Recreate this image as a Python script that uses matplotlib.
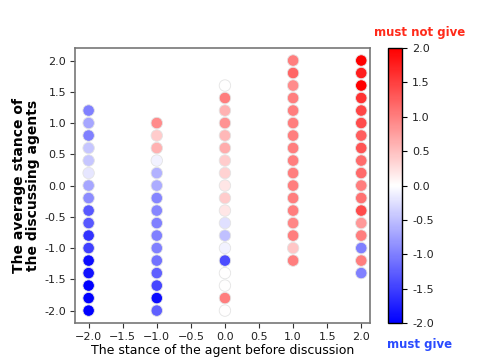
import matplotlib

matplotlib.use("Agg")
import matplotlib.pyplot as plt  # noqa: E402
from matplotlib.ticker import FuncFormatter  # noqa: E402

# stance of the agent before discussion (x) -> column of points
x_before = [-2.0, -1.0, 0.0, 1.0, 2.0]

# average stance of discussing agents (y) per column, top to bottom
y_m2 = [1.2, 1.0, 0.8, 0.6, 0.4, 0.2, 0.0, -0.2, -0.4, -0.6, -0.8, -1.0, -1.2, -1.4, -1.6, -1.8, -2.0]
y_m1 = [1.0, 0.8, 0.6, 0.4, 0.2, 0.0, -0.2, -0.4, -0.6, -0.8, -1.0, -1.2, -1.4, -1.6, -1.8, -2.0]
y_0 = [1.6, 1.4, 1.2, 1.0, 0.8, 0.6, 0.4, 0.2, 0.0, -0.2, -0.4, -0.6, -0.8, -1.0, -1.2, -1.4, -1.6, -1.8, -2.0]
y_p1 = [2.0, 1.8, 1.6, 1.4, 1.2, 1.0, 0.8, 0.6, 0.4, 0.2, 0.0, -0.2, -0.4, -0.6, -0.8, -1.0, -1.2]
y_p2 = [2.0, 1.8, 1.6, 1.4, 1.2, 1.0, 0.8, 0.6, 0.4, 0.2, 0.0, -0.2, -0.4, -0.6, -0.8, -1.0, -1.2, -1.4]

# stance after discussion (colour), same order as y
c_m2 = [-1.0, -0.7, -1.0, -0.45, -0.45, -0.2, -0.7, -0.9, -1.3, -1.3, -1.6, -1.5, -1.9, -1.85, -2.0, -2.0, -2.0]
c_m1 = [0.9, 0.4, 0.6, -0.1, -0.6, -0.65, -0.95, -0.95, -1.0, -1.0, -1.0, -1.1, -1.25, -1.45, -1.9, -1.25]
c_0 = [0.0, 1.0, 0.6, 0.85, 0.55, 0.65, 0.4, 0.35, 0.2, 0.4, 0.2, -0.25, -0.5, -0.1, -1.4, 0.0, 0.0, 1.0, 0.0]
c_p1 = [1.0, 1.2, 0.9, 1.0, 1.0, 1.0, 1.0, 1.0, 1.0, 1.0, 1.0, 1.0, 1.0, 0.95, 1.0, 0.45, 1.0]
c_p2 = [2.0, 1.75, 2.0, 1.6, 1.45, 1.4, 1.25, 1.33, 1.15, 1.17, 1.0, 1.1, 1.4, 0.8, 1.0, -1.0, 1.0, -1.0]

ys = [y_m2, y_m1, y_0, y_p1, y_p2]
cs = [c_m2, c_m1, c_0, c_p1, c_p2]

xs, yy, cc = [], [], []
for xv, ycol, ccol in zip(x_before, ys, cs):
    xs += [xv] * len(ycol)
    yy += ycol
    cc += ccol

fig = plt.figure(figsize=(4.87, 3.61), dpi=100)
ax = fig.add_axes([0.154, 0.105, 0.606, 0.762])
sc = ax.scatter(xs, yy, c=cc, cmap="bwr", vmin=-2, vmax=2, s=68,
                edgecolors="#e4e4e4", linewidths=0.6)
ax.set_xlim(-2.2, 2.13)
ax.set_ylim(-2.2, 2.2)
ax.set_xticks([-2.0, -1.5, -1.0, -0.5, 0.0, 0.5, 1.0, 1.5, 2.0])
ax.set_yticks([-2.0, -1.5, -1.0, -0.5, 0.0, 0.5, 1.0, 1.5, 2.0])
hyph = FuncFormatter(lambda v, p: f"{v:.1f}")
ax.yaxis.set_major_formatter(hyph)
ax.xaxis.set_major_formatter(FuncFormatter(lambda v, p: f"{v:.1f}".replace("-", "\u2212")))
ax.tick_params(labelsize=8, colors="#333333", labelcolor="#222222", pad=3)
for sp in ax.spines.values():
    sp.set_color("#777777")
    sp.set_linewidth(1.2)
ax.set_xlabel("The stance of the agent before discussion", fontsize=9, labelpad=1)
ax.set_ylabel("The average stance of\nthe discussing agents", fontsize=10,
              fontweight="bold", labelpad=3, linespacing=1.0)

cax = fig.add_axes([0.797, 0.105, 0.029, 0.762])
cb = fig.colorbar(sc, cax=cax)
cb.set_ticks([-2.0, -1.5, -1.0, -0.5, 0.0, 0.5, 1.0, 1.5, 2.0])
cb.ax.yaxis.set_major_formatter(hyph)
cb.ax.tick_params(labelsize=8, labelcolor="#222222")
cb.outline.set_linewidth(1.0)

fig.text(0.862, 0.91, "must not give", color="#ff2a1a", fontsize=8.5,
         fontweight="bold", ha="center", va="center")
fig.text(0.862, 0.045, "must give", color="#2a4bff", fontsize=8.5,
         fontweight="bold", ha="center", va="center")

fig.savefig("out.png", dpi=100)
